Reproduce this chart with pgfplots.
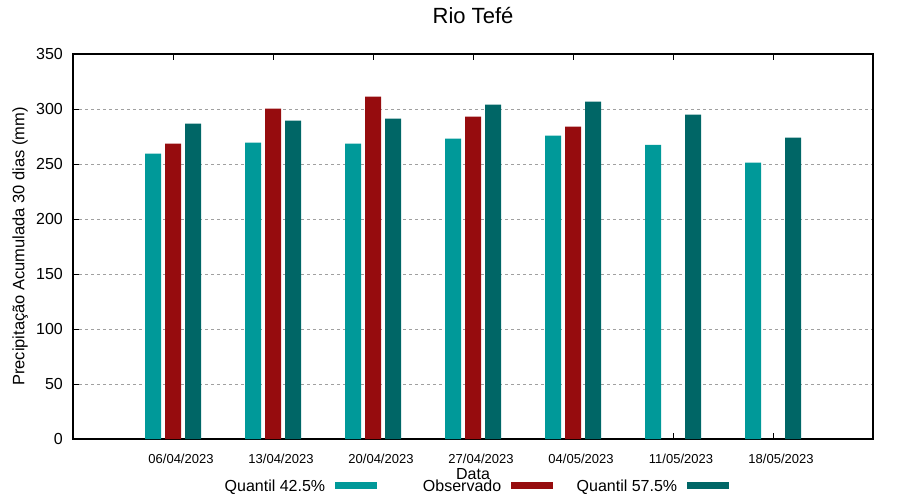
\documentclass[border=0pt]{standalone}
\usepackage{pgfplots}
\pgfplotsset{compat=1.18}
\usepackage{fontspec}
\setmainfont{Liberation Sans}
\definecolor{cA}{RGB}{0,153,153}
\definecolor{cB}{RGB}{150,12,14}
\definecolor{cC}{RGB}{0,102,102}
\begin{document}
\begin{tikzpicture}
\begin{axis}[
  name=ax,
  scale only axis,
  width=800bp, height=385bp,
  xmin=-1, xmax=7, ymin=0, ymax=350,
  axis line style={line width=1.2bp},
  xtick={0,1,2,3,4,5,6},
  xticklabels={06/04/2023,13/04/2023,20/04/2023,27/04/2023,04/05/2023,11/05/2023,18/05/2023},
  xtick pos=both, xticklabel pos=lower,
  ytick={0,50,...,350},
  ytick pos=left,
  major tick length=6bp,
  tick style={line width=1bp, black},
  /pgf/number format/assume math mode=true,
  xticklabel style={font=\fontsize{13bp}{15bp}\selectfont, anchor=base, inner sep=0pt, xshift=8bp, yshift=-24bp},
  yticklabel style={font=\fontsize{16bp}{18bp}\selectfont, anchor=east, inner sep=0pt, xshift=-10bp},
  ymajorgrids,
  major grid style={dash pattern=on 3bp off 3bp, color={rgb,255:red,160;green,160;blue,160}, line width=1bp},
  title={Rio Tefé},
  title style={font=\fontsize{22bp}{24bp}\selectfont, at={(rel axis cs:0.5,1)}, anchor=center, yshift=33bp},
  xlabel={Data},
  xlabel style={font=\fontsize{16bp}{18bp}\selectfont, at={(rel axis cs:0.5,-0.0909)}, anchor=center},
  ylabel={Precipitação Acumulada 30 dias (mm)},
  ylabel style={font=\fontsize{16.5bp}{18bp}\selectfont, at={(rel axis cs:-0.066,0.5)}, anchor=center, rotate=0},
  legend columns=3,
  legend plot pos=right,
  legend style={draw=none, fill=none, inner sep=0pt, at={(rel axis cs:0.19,-0.122)}, anchor=west,
    font=\fontsize{16bp}{18bp}\selectfont,
    nodes={inner sep=0pt},
    /tikz/every odd column/.style={column sep=10bp},
    /tikz/every even column/.style={column sep=24bp}},
]
\addplot[ybar, bar width=16bp, bar shift=-20bp, fill=cA, draw=none,
  legend image code/.code={\fill[cA] (0bp,-3.5bp) rectangle (42bp,3.5bp);}]
  coordinates {(0,259.4) (1,269.4) (2,268.5) (3,273) (4,275.7) (5,267.5) (6,251.2)};
\addlegendentry{\makebox[100bp][r]{Quantil 42.5\%}}
\addplot[ybar, bar width=16bp, bar shift=0bp, fill=cB, draw=none,
  legend image code/.code={\fill[cB] (0bp,-3.5bp) rectangle (42bp,3.5bp);}]
  coordinates {(0,268.5) (1,300.3) (2,311.2) (3,293) (4,283.9)};
\addlegendentry{\makebox[100bp][r]{Observado}}
\addplot[ybar, bar width=16bp, bar shift=20bp, fill=cC, draw=none,
  legend image code/.code={\fill[cC] (0bp,-3.5bp) rectangle (42bp,3.5bp);}]
  coordinates {(0,286.6) (1,289.4) (2,291.2) (3,304) (4,306.6) (5,294.8) (6,273.9)};
\addlegendentry{\makebox[100bp][r]{Quantil 57.5\%}}
\coordinate (sw) at (rel axis cs:0,0);
\coordinate (ne) at (rel axis cs:1,1);
\end{axis}
\pgfresetboundingbox
\useasboundingbox ([shift={(-73bp,-61bp)}]sw) rectangle ([shift={(27bp,54bp)}]ne);
\end{tikzpicture}
\end{document}
